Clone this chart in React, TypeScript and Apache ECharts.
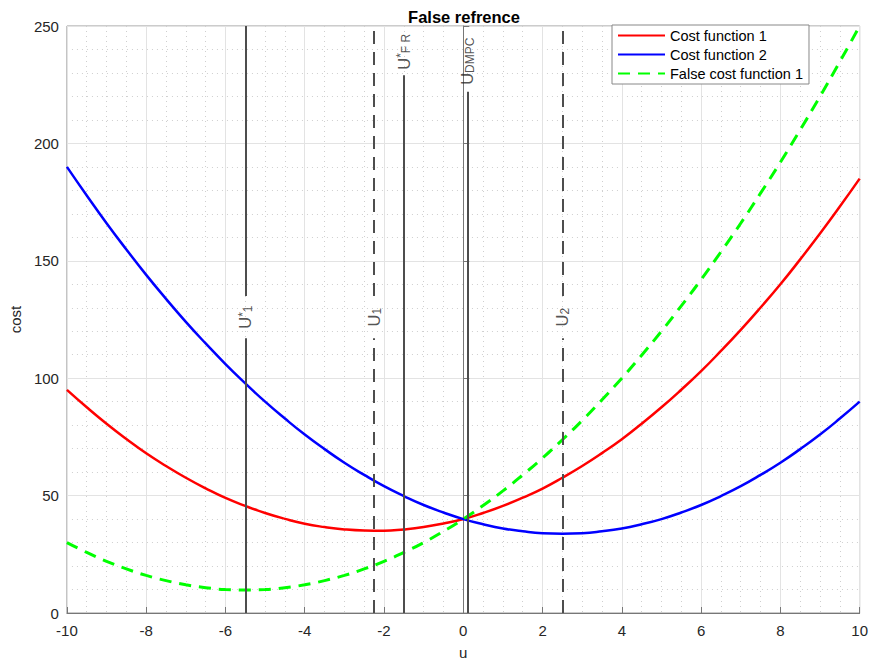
import React, { useEffect, useRef } from "react";
import * as echarts from "echarts";

const xs = [-10, -9.5, -9, -8.5, -8, -7.5, -7, -6.5, -6, -5.5, -5, -4.5, -4, -3.5, -3, -2.5, -2, -1.5, -1, -0.5, 0, 0.5, 1, 1.5, 2, 2.5, 3, 3.5, 4, 4.5, 5, 5.5, 6, 6.5, 7, 7.5, 8, 8.5, 9, 9.5, 10];
const cost1 = [95, 87.6, 80.6, 74.1, 68, 62.6, 57.6, 53.1, 49, 45.6, 42.6, 40.1, 38, 36.6, 35.6, 35.1, 35, 35.6, 36.6, 38.1, 40, 42.6, 45.6, 49.1, 53, 57.6, 62.6, 68.1, 74, 80.6, 87.6, 95.1, 103, 111.6, 120.6, 130.1, 140, 150.6, 161.6, 173.1, 185];
const cost2 = [190, 177.8, 166, 154.8, 144, 133.8, 124, 114.8, 106, 97.8, 90, 82.8, 76, 69.8, 64, 58.8, 54, 49.8, 46, 42.8, 40, 37.8, 36, 34.8, 34, 33.8, 34, 34.8, 36, 37.8, 40, 42.8, 46, 49.8, 54, 58.8, 64, 69.8, 76, 82.8, 90];
const falseCost1 = [30, 25.8, 22, 18.8, 16, 13.8, 12, 10.8, 10, 9.8, 10, 10.8, 12, 13.8, 16, 18.8, 22, 25.8, 30, 34.8, 40, 45.8, 52, 58.8, 66, 73.8, 82, 90.8, 100, 109.8, 120, 130.8, 142, 153.8, 166, 178.8, 192, 205.8, 220, 234.8, 250];

// vertical reference lines: x position, dashed?, segments [from, to]
const refNames = ["U1*", "U1", "UFR*", "UDMPC", "U2"];
const refX = [-5.5, -2.25, -1.5, 0.1, 2.5];
const refDashed = [false, true, false, false, true];
const refSegments = [
  [[0, 117], [135, 250]],
  [[0, 117], [135, 250]],
  [[0, 229]],
  [[0, 222]],
  [[0, 117], [135, 250]],
];
const refLabelY = [126, 126, 239, 235, 126];
const refLabelText = [
  "{u|U}{sup|*}{sub|1}",
  "{u|U}{sub|1}",
  "{u|U}{sup|*}{sub|F R}",
  "{u|U}{sub|DMPC}",
  "{u|U}{sub|2}",
];

const FONT = "Liberation Sans, Arial, Helvetica, sans-serif";

export default function App() {
  const ref = useRef<HTMLDivElement>(null);
  useEffect(() => {
    if (!ref.current) return;
    const chart = echarts.init(ref.current, undefined, { renderer: "svg" });
    const pairs = (ys: number[]) => xs.map((x, i) => [x, ys[i]]);
    const refSeries = refX.map((x, i) => ({
      type: "line",
      name: refNames[i],
      data: [] as any[],
      silent: true,
      markLine: {
        silent: true,
        symbol: "none",
        animation: false,
        label: { show: false },
        lineStyle: {
          color: "#4d4d4d",
          width: 2,
          type: refDashed[i] ? [13, 8] : "solid",
        },
        data: refSegments[i].map((s) => [
          { coord: [x, s[0]] },
          { coord: [x, s[1]] },
        ]),
      },
    }));
    const labelSeries = {
      type: "scatter",
      name: "labels",
      symbolSize: 0,
      silent: true,
      data: refX.map((x, i) => ({
        value: [x, refLabelY[i]],
        label: { formatter: refLabelText[i] },
      })),
      label: {
        show: true,
        position: "inside",
        rotate: 90,
        align: "center",
        verticalAlign: "middle",
        color: "#262626",
        fontFamily: FONT,
        rich: {
          u: { fontSize: 16.5, color: "#262626", fontFamily: FONT },
          sup: { fontSize: 12, color: "#262626", verticalAlign: "top", fontFamily: FONT },
          sub: { fontSize: 12, color: "#262626", verticalAlign: "bottom", fontFamily: FONT },
        },
      },
    };
    chart.setOption({
      animation: false,
      backgroundColor: "#ffffff",
      title: {
        text: "False refrence",
        left: 459,
        top: 3,
        textAlign: "center",
        textStyle: { fontSize: 16.5, fontWeight: "bold", color: "#000", fontFamily: FONT },
      },
      legend: {
        left: 612,
        top: 25,
        orient: "vertical",
        data: ["Cost function 1", "Cost function 2", "False cost function 1"],
        backgroundColor: "#fff",
        borderColor: "#888",
        borderWidth: 1,
        borderRadius: 0,
        padding: [3, 6, 3, 5],
        itemGap: 4,
        itemWidth: 47,
        itemHeight: 14,
        itemStyle: { opacity: 0 },
        textStyle: { fontSize: 14.5, color: "#000", fontFamily: FONT },
      },
      grid: {
        left: 66,
        right: 9,
        top: 26,
        bottom: 50,
        show: true,
        borderColor: "#999",
        borderWidth: 1,
      },
      xAxis: {
        type: "value",
        min: -10,
        max: 10,
        interval: 2,
        name: "u",
        nameLocation: "middle",
        nameGap: 32,
        nameTextStyle: { fontSize: 15, color: "#262626", fontFamily: FONT },
        axisLine: { show: true, lineStyle: { color: "#777", width: 1 } },
        axisTick: { show: true, inside: true, length: 6, lineStyle: { color: "#777" } },
        axisLabel: { fontSize: 15, color: "#262626", margin: 10, fontFamily: FONT },
        splitLine: { show: true, lineStyle: { color: "#e3e3e3", width: 1 } },
        minorTick: { show: false, splitNumber: 4 },
        minorSplitLine: { show: true, lineStyle: { color: "#cfcfcf", type: [1, 4], width: 1 } },
      },
      yAxis: {
        type: "value",
        min: 0,
        max: 250,
        interval: 50,
        name: "cost",
        nameLocation: "middle",
        nameGap: 42,
        nameTextStyle: { fontSize: 15, color: "#262626", fontFamily: FONT },
        axisLine: { show: true, lineStyle: { color: "#777", width: 1 } },
        axisTick: { show: true, inside: true, length: 6, lineStyle: { color: "#777" } },
        axisLabel: { fontSize: 15, color: "#262626", margin: 8, fontFamily: FONT },
        splitLine: { show: true, lineStyle: { color: "#e3e3e3", width: 1 } },
        minorTick: { show: false, splitNumber: 5 },
        minorSplitLine: { show: true, lineStyle: { color: "#cfcfcf", type: [1, 4], width: 1 } },
      },
      series: [
        ...refSeries,
        {
          type: "line",
          name: "Cost function 1",
          data: pairs(cost1),
          smooth: true,
          symbol: "none",
          lineStyle: { color: "#ff0000", width: 2.5 },
          itemStyle: { color: "#ff0000" },
        },
        {
          type: "line",
          name: "Cost function 2",
          data: pairs(cost2),
          smooth: true,
          symbol: "none",
          lineStyle: { color: "#0000ff", width: 2.5 },
          itemStyle: { color: "#0000ff" },
        },
        {
          type: "line",
          name: "False cost function 1",
          data: pairs(falseCost1),
          smooth: true,
          symbol: "none",
          lineStyle: { color: "#00ff00", width: 3, type: [12, 8] },
          itemStyle: { color: "#00ff00" },
        },
        labelSeries,
      ],
    });
    return () => chart.dispose();
  }, []);
  return (
    <div
      ref={ref}
      style={{ position: "fixed", left: 0, top: 0, width: 871, height: 665, background: "#fff" }}
    />
  );
}
